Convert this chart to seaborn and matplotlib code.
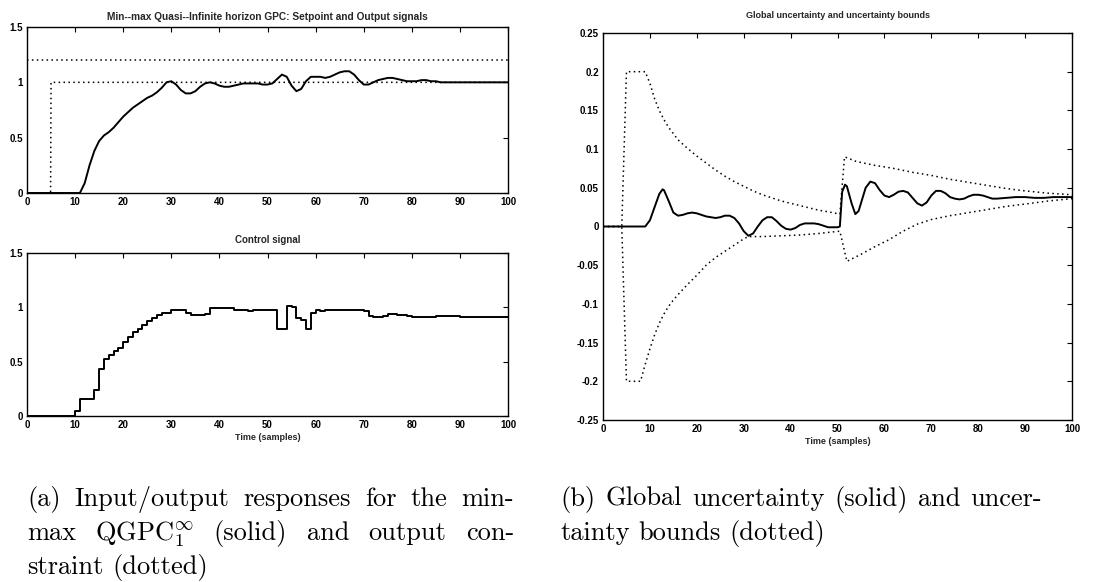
import matplotlib
matplotlib.use("Agg")
import numpy as np
import pandas as pd
import seaborn as sns
import matplotlib.pyplot as plt

# ---------------- data ----------------
# (a) top: output signal (solid), setpoint and constraint (dotted)
t_out = [0, 11, 12, 13, 14, 15, 16, 17, 18, 19, 20, 21, 22, 23, 24, 25, 26, 27, 28, 29,
         30, 31, 32, 33, 34, 35, 36, 37, 38, 39, 40, 41, 42, 43, 44, 45, 46, 47, 48, 49,
         50, 51, 52, 53, 54, 55, 56, 57, 58, 59, 60, 61, 62, 63, 64, 65, 66, 67, 68, 69,
         70, 71, 72, 73, 74, 75, 76, 77, 78, 79, 80, 81, 82, 83, 84, 85, 86, 88, 90, 100]
y_out = [0, 0, 0.09, 0.25, 0.38, 0.47, 0.52, 0.55, 0.59, 0.64, 0.69, 0.73, 0.77, 0.80, 0.83, 0.86, 0.88, 0.91, 0.95, 1.00,
         1.01, 0.98, 0.93, 0.90, 0.90, 0.92, 0.96, 0.99, 1.00, 0.99, 0.97, 0.96, 0.96, 0.97, 0.98, 0.99, 0.99, 0.99, 0.99, 0.98,
         0.98, 0.99, 1.03, 1.07, 1.05, 0.97, 0.92, 0.94, 1.01, 1.05, 1.05, 1.05, 1.04, 1.05, 1.07, 1.09, 1.10, 1.10, 1.07, 1.02,
         0.98, 0.98, 1.00, 1.02, 1.03, 1.04, 1.04, 1.03, 1.02, 1.01, 1.01, 1.01, 1.02, 1.02, 1.01, 1.01, 1.00, 1.00, 1.00, 1.00]
t_setpoint = [0, 4.9, 5, 100]
y_setpoint = [0, 0, 1, 1]
t_constraint = [0, 100]
y_constraint = [1.2, 1.2]

# (a) bottom: control signal (stairs)
t_u = [0, 10, 11, 14, 15, 16, 17, 18, 19, 20, 21, 22, 23, 24, 25, 26, 27, 28, 30, 33, 34, 37, 38,
       43, 46, 47, 52, 54, 55, 56, 57, 58, 59, 60, 61, 62, 70, 71, 72, 74, 75, 77, 79, 80, 85, 90, 100]
u = [0, 0.05, 0.16, 0.24, 0.43, 0.52, 0.56, 0.60, 0.63, 0.68, 0.73, 0.77, 0.80, 0.84, 0.87, 0.90, 0.93, 0.95, 0.98, 0.95, 0.93, 0.94, 0.99,
     0.98, 0.97, 0.98, 0.80, 1.01, 1.00, 0.90, 0.88, 0.80, 0.95, 0.98, 0.97, 0.98, 0.97, 0.92, 0.91, 0.92, 0.94, 0.93, 0.92, 0.915, 0.92, 0.91, 0.91]

# (b) global uncertainty (solid)
t_unc = [0, 9, 10, 11, 12, 12.7, 13, 14, 15, 16, 17, 18, 19, 20, 21, 22, 23, 24, 25, 26, 27, 28, 29,
         30, 31, 32, 33, 34, 35, 36, 37, 38, 39, 40, 41, 42, 43, 44, 45, 46, 47, 48, 49, 50, 50.5,
         51, 51.6, 52, 53, 53.8, 54.5, 55, 56, 57, 58, 59, 60, 61, 62, 63, 64, 65, 66, 67, 68, 69,
         70, 71, 72, 73, 74, 75, 76, 77, 78, 79, 80, 81, 82, 83, 84, 86, 88, 90, 92, 94, 96, 100]
unc = [0, 0, 0.008, 0.025, 0.042, 0.048, 0.047, 0.033, 0.018, 0.014, 0.015, 0.017, 0.018, 0.017, 0.015, 0.013, 0.012, 0.011, 0.012, 0.014, 0.014, 0.011, 0.004,
       -0.006, -0.012, -0.009, 0.0, 0.008, 0.012, 0.012, 0.007, 0.001, -0.003, -0.004, -0.002, 0.002, 0.004, 0.004, 0.004, 0.003, 0.001, -0.001, -0.001, -0.001, 0.0,
       0.045, 0.054, 0.052, 0.030, 0.016, 0.020, 0.030, 0.050, 0.058, 0.056, 0.047, 0.040, 0.038, 0.041, 0.045, 0.046, 0.044, 0.037, 0.030, 0.027, 0.031,
       0.040, 0.046, 0.046, 0.043, 0.038, 0.036, 0.035, 0.036, 0.039, 0.041, 0.041, 0.040, 0.038, 0.036, 0.036, 0.037, 0.038, 0.038, 0.037, 0.037, 0.038, 0.038]

# (b) uncertainty bounds (dotted)
t_upper = [0, 4, 5, 9, 10, 11, 12, 13, 14, 15, 16, 18, 20, 22, 24, 26, 28, 30, 32, 34, 36, 38, 40,
           42, 44, 46, 48, 50.5, 51.5, 54, 58, 62, 66, 70, 74, 78, 82, 86, 90, 95, 100]
upper = [0, 0, 0.2, 0.2, 0.185, 0.165, 0.15, 0.138, 0.128, 0.12, 0.112, 0.101, 0.091, 0.082, 0.073, 0.065, 0.058, 0.052, 0.046, 0.041, 0.037, 0.033, 0.030,
         0.027, 0.024, 0.021, 0.019, 0.016, 0.090, 0.084, 0.079, 0.075, 0.070, 0.066, 0.061, 0.057, 0.053, 0.049, 0.046, 0.043, 0.041]
t_lower = [0, 4, 5, 8, 9, 10, 11, 12, 13, 14, 15, 16, 18, 20, 22, 24, 26, 28, 30, 31, 34, 38, 42, 46,
           50.5, 52, 55, 58, 61, 64, 67, 70, 74, 78, 82, 86, 90, 95, 100]
lower = [0, 0, -0.2, -0.2, -0.178, -0.158, -0.14, -0.125, -0.113, -0.103, -0.095, -0.088, -0.075, -0.063, -0.05, -0.04, -0.032, -0.024, -0.016, -0.013, -0.013, -0.012, -0.011, -0.009,
         -0.006, -0.045, -0.036, -0.026, -0.017, -0.006, 0.003, 0.009, 0.014, 0.018, 0.022, 0.026, 0.029, 0.033, 0.036]

x_ticks = [0, 10, 20, 30, 40, 50, 60, 70, 80, 90, 100]
x_ticklabels = ["0", "10", "20", "30", "40", "50", "60", "70", "80", "90", "100"]
ya_ticks = [0, 0.5, 1, 1.5]
ya_ticklabels = ["0", "0.5", "1", "1.5"]
yb_ticks = [-0.25, -0.2, -0.15, -0.1, -0.05, 0, 0.05, 0.1, 0.15, 0.2, 0.25]
yb_ticklabels = ["-0.25", "-0.2", "-0.15", "-0.1", "-0.05", "0", "0.05", "0.1", "0.15", "0.2", "0.25"]

title_top = "Min--max Quasi--Infinite horizon GPC: Setpoint and Output signals"
title_bottom = "Control signal"
title_right = "Global uncertainty and uncertainty bounds"
xlabel = "Time (samples)"
caption_a = [["(a)", "Input/output", "responses", "for", "the", "min-"],
             ["max", r"QGPC$_1^\infty$", "(solid)", "and", "output", "con-"],
             ["straint", "(dotted)"]]
caption_b = [["(b)", "Global", "uncertainty", "(solid)", "and", "uncer-"],
             ["tainty", "bounds", "(dotted)"]]

# ---------------- style ----------------
sns.set_style("white")
plt.rcParams["font.family"] = ["Liberation Sans", "DejaVu Sans"]
plt.rcParams["mathtext.fontset"] = "cm"

W, H = 1097, 582
fig = plt.figure(figsize=(W / 100, H / 100), dpi=100)

def px_axes(l, t, r, b):
    return fig.add_axes([l / W, 1 - b / H, (r - l) / W, (b - t) / H])

ax1 = px_axes(27, 27, 508, 193)
ax2 = px_axes(27, 253, 508, 416)
ax3 = px_axes(603, 33, 1072, 420)

solid = dict(color="black", linewidth=1.4, estimator=None, sort=False)
dotted = dict(color="black", linewidth=1.1, linestyle=(0, (1, 2.2)), estimator=None, sort=False)

sns.lineplot(x=t_constraint, y=y_constraint, ax=ax1, **dotted)
sns.lineplot(x=t_setpoint, y=y_setpoint, ax=ax1, **dotted)
sns.lineplot(x=t_out, y=y_out, ax=ax1, **solid)

sns.lineplot(x=t_u, y=u, ax=ax2, drawstyle="steps-post", **solid)

sns.lineplot(x=t_upper, y=upper, ax=ax3, **dotted)
sns.lineplot(x=t_lower, y=lower, ax=ax3, **dotted)
sns.lineplot(x=t_unc, y=unc, ax=ax3, **solid)

for ax in (ax1, ax2, ax3):
    ax.set_xlim(0, 100)
    ax.set_xticks(x_ticks)
    ax.set_xticklabels(x_ticklabels)
    ax.tick_params(direction="in", length=3.5, width=0.8, top=True, right=True,
                   labelsize=7, pad=3, colors="black")
    for sp in ax.spines.values():
        sp.set_visible(True)
        sp.set_color("black")
        sp.set_linewidth(1.0)
    for lab in ax.get_xticklabels() + ax.get_yticklabels():
        lab.set_fontweight("bold")

for ax in (ax1, ax2):
    ax.set_ylim(0, 1.5)
    ax.set_yticks(ya_ticks)
    ax.set_yticklabels(ya_ticklabels, fontweight="bold")
ax3.set_ylim(-0.25, 0.25)
ax3.set_yticks(yb_ticks)
ax3.set_yticklabels(yb_ticklabels, fontweight="bold")

ax1.set_title(title_top, fontsize=7.3, fontweight="bold", pad=5)
ax2.set_title(title_bottom, fontsize=7, fontweight="bold", pad=7)
ax3.set_title(title_right, fontsize=6.5, fontweight="bold", pad=11)
ax2.set_xlabel(xlabel, fontsize=6.5, fontweight="bold", labelpad=2)
ax3.set_xlabel(xlabel, fontsize=6.5, fontweight="bold", labelpad=2)
ax1.set_xlabel("")
ax1.set_ylabel("")
ax2.set_ylabel("")
ax3.set_ylabel("")

# ---------------- captions (justified) ----------------
renderer = fig.canvas.get_renderer()
cap_kw = dict(family="cmr10", fontsize=19, color="black", va="baseline", ha="left")

def caption(lines, x0, x1, y0, dy):
    for i, words in enumerate(lines):
        y = 1 - (y0 + i * dy) / H
        texts = [fig.text(0, y, w, **cap_kw) for w in words]
        widths = [t.get_window_extent(renderer).width for t in texts]
        last = i == len(lines) - 1
        if last or len(words) == 1:
            sp = texts[0].get_fontsize() * 100 / 72 * 0.33
        else:
            sp = (x1 - x0 - sum(widths)) / (len(words) - 1)
        x = x0
        for t, w in zip(texts, widths):
            t.set_x(x / W)
            x += w + sp

caption(caption_a, 27, 514, 506, 34)
caption(caption_b, 560, 1042, 506, 34)

fig.savefig("out.png", dpi=100)
